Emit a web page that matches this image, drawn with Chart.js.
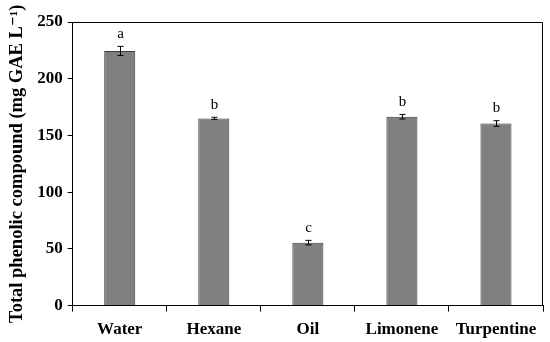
<!DOCTYPE html>
<html>
<head>
<meta charset="utf-8">
<script src="https://cdn.jsdelivr.net/npm/chart.js@4"></script>
<style>
    html, body { margin: 0; padding: 0; background: #fff; }
    #wrap { width: 550px; height: 342px; overflow: hidden; }
    #inner { width: 550px; height: 351px; }
</style>
</head>
<body>
<div id="wrap"><div id="inner"><canvas id="barChart"></canvas></div></div>
<script>
const categories = ["Water", "Hexane", "Oil", "Limonene", "Turpentine"];
const values = [224.5, 165, 55.5, 166.5, 160.5];
const errors = [4, 1, 2, 2, 2.5];
const letters = ["a", "b", "c", "b", "b"];
const yTicks = [0, 50, 100, 150, 200, 250];

const FONT = "'Liberation Serif', 'DejaVu Serif', serif";

// error bars, significance letters and the frame
const extras = {
    id: "extras",
    afterDatasetsDraw(chart) {
        const ctx = chart.ctx;
        const x = chart.scales.x;
        const y = chart.scales.y;
        const area = chart.chartArea;

        ctx.save();
        ctx.strokeStyle = "#000";
        ctx.lineWidth = 1;

        values.forEach((v, i) => {
            const cx = Math.round(x.getPixelForValue(i)) + 0.5;
            const top = y.getPixelForValue(v + errors[i]);
            const bot = y.getPixelForValue(v - errors[i]);
            ctx.beginPath();
            ctx.moveTo(cx, top);
            ctx.lineTo(cx, bot);
            ctx.moveTo(cx - 3, top);
            ctx.lineTo(cx + 3, top);
            ctx.moveTo(cx - 3, bot);
            ctx.lineTo(cx + 3, bot);
            ctx.stroke();

            ctx.fillStyle = "#000";
            ctx.font = "15px " + FONT;
            ctx.textAlign = "center";
            ctx.textBaseline = "bottom";
            ctx.fillText(letters[i], cx, top - 5);
        });

        ctx.strokeStyle = "#000";
        ctx.beginPath();
        ctx.moveTo(area.left, area.top + 0.5);
        ctx.lineTo(area.right - 0.5, area.top + 0.5);
        ctx.lineTo(area.right - 0.5, area.bottom);
        ctx.stroke();
        ctx.restore();
    }
};

new Chart(document.getElementById("barChart"), {
    type: "bar",
    data: {
        labels: categories,
        datasets: [{
            data: values,
            backgroundColor: "#808080",
            borderColor: "#3a3a3a",
            borderWidth: 1,
            barPercentage: 0.33,
            categoryPercentage: 1
        }]
    },
    options: {
        responsive: true,
        maintainAspectRatio: false,
        animation: false,
        layout: { padding: { top: 22, right: 7, left: 4, bottom: 3 } },
        plugins: {
            legend: { display: false },
            tooltip: { enabled: false }
        },
        scales: {
            x: {
                offset: true,
                border: { color: "#000", width: 1 },
                grid: {
                    offset: true,
                    drawOnChartArea: false,
                    tickLength: 6,
                    color: "#000"
                },
                ticks: {
                    color: "#000",
                    padding: 8,
                    font: { family: FONT, size: 17, weight: "bold" }
                }
            },
            y: {
                min: 0,
                max: 250,
                afterBuildTicks(axis) {
                    axis.ticks = yTicks.map(v => ({ value: v }));
                },
                border: { color: "#000", width: 1 },
                grid: {
                    drawOnChartArea: false,
                    tickLength: 5,
                    color: "#000"
                },
                ticks: {
                    color: "#000",
                    padding: 5,
                    font: { family: FONT, size: 17, weight: "bold" }
                },
                title: {
                    display: true,
                    text: "Total phenolic compound (mg GAE L\u207B\u00B9)",
                    color: "#000",
                    padding: { top: 2, bottom: 4 },
                    font: { family: FONT, size: 18.5, weight: "bold" }
                }
            }
        }
    },
    plugins: [extras]
});
</script>
</body>
</html>
